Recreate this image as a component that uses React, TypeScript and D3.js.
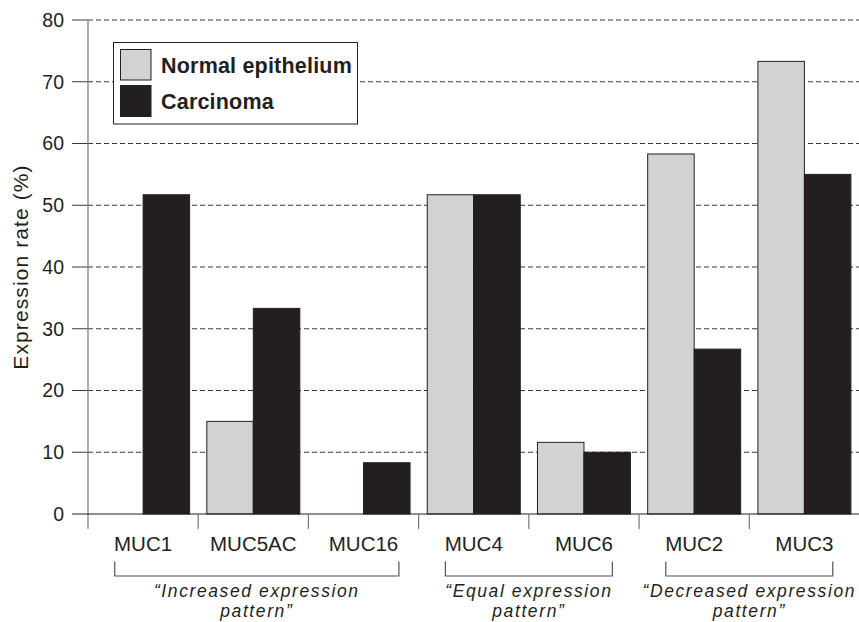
import React from "react";
import * as d3 from "d3";

const categories = ["MUC1", "MUC5AC", "MUC16", "MUC4", "MUC6", "MUC2", "MUC3"];
const seriesNames = ["Normal epithelium", "Carcinoma"];
const normalValues = [0, 15, 0, 51.7, 11.6, 58.3, 73.3];
const carcinomaValues = [51.7, 33.3, 8.3, 51.7, 10, 26.7, 55];
const yTicks = [0, 10, 20, 30, 40, 50, 60, 70, 80];
const groups = [
  { from: "MUC1", to: "MUC16", line1: "\u201CIncreased expression", line2: "pattern\u201D" },
  { from: "MUC4", to: "MUC6", line1: "\u201CEqual expression", line2: "pattern\u201D" },
  { from: "MUC2", to: "MUC3", line1: "\u201CDecreased expression", line2: "pattern\u201D" },
];

const W = 859;
const H = 622;
const FONT = "'Liberation Sans', Arial, Helvetica, sans-serif";
const NORMAL_FILL = "#d1d2d4";
const DARK = "#231f20";

export default function App() {
  const x = d3.scaleBand<string>().domain(categories).range([88, 859.5]).paddingInner(0).paddingOuter(0);
  const xs = d3.scaleBand<string>().domain(seriesNames).range([0, x.bandwidth()]).paddingInner(0).paddingOuter(0.185);
  const y = d3.scaleLinear().domain([0, 80]).range([514, 20]);

  const data = categories.map((c, i) => ({ c, vals: [normalValues[i], carcinomaValues[i]] }));

  const labelHalf = (c: string) => (c.length * 0.68 * 20.5) / 2 + 0.5;

  return (
    <svg
      width={W}
      height={H}
      style={{ position: "fixed", left: 0, top: 0, background: "#fff" }}
      fontFamily={FONT}
    >
      <rect x={0} y={0} width={W} height={H} fill="#fff" />
      {yTicks.filter((t) => t > 0).map((t) => (
        <g key={t}>
          <line x1={88} x2={W} y1={y(t)} y2={y(t)} stroke="#3a3a3a" strokeWidth={1} strokeDasharray="5,3" />
          <line x1={72} x2={88} y1={y(t)} y2={y(t)} stroke="#3a3a3a" strokeWidth={1} />
        </g>
      ))}
      {yTicks.map((t) => (
        <text key={t} x={64} y={y(t)} dy="0.35em" textAnchor="end" fontSize={19.5} fill={DARK}>
          {t}
        </text>
      ))}
      {data.map((d) => (
        <g key={d.c} transform={`translate(${x(d.c)},0)`}>
          {d.vals.map((v, j) =>
            v > 0 ? (
              <rect
                key={j}
                x={xs(seriesNames[j]) as number}
                y={y(v)}
                width={xs.bandwidth()}
                height={y(0) - y(v)}
                fill={j === 0 ? NORMAL_FILL : DARK}
                stroke={DARK}
                strokeWidth={1}
              />
            ) : null
          )}
        </g>
      ))}
      <line x1={88} x2={88} y1={20} y2={529} stroke="#777" strokeWidth={1.2} />
      <line x1={72} x2={W} y1={y(0)} y2={y(0)} stroke={DARK} strokeWidth={1.2} />
      {categories.slice(1).map((c) => (
        <line key={c} x1={x(c)} x2={x(c)} y1={y(0)} y2={529} stroke="#777" strokeWidth={1.2} />
      ))}
      {categories.map((c) => (
        <text key={c} x={(x(c) as number) + x.bandwidth() / 2} y={551} textAnchor="middle" fontSize={20.5} fill={DARK}>
          {c}
        </text>
      ))}
      {groups.map((g) => {
        const x1 = (x(g.from) as number) + x.bandwidth() / 2 - labelHalf(g.from);
        const x2 = (x(g.to) as number) + x.bandwidth() / 2 + labelHalf(g.to);
        const cx = (x1 + x2) / 2;
        return (
          <g key={g.from}>
            <path d={`M${x1},561.5 V576 H${x2} V561.5`} fill="none" stroke="#555" strokeWidth={1.2} />
            <text x={cx} y={596.5} textAnchor="middle" fontSize={17.5} fontStyle="italic" letterSpacing={1.6} fill={DARK}>
              {g.line1}
            </text>
            <text x={cx} y={616.5} textAnchor="middle" fontSize={17.5} fontStyle="italic" letterSpacing={1.6} fill={DARK}>
              {g.line2}
            </text>
          </g>
        );
      })}
      <text
        transform={`translate(28,267) rotate(-90)`}
        textAnchor="middle"
        fontSize={21}
        letterSpacing={1.1}
        fill={DARK}
      >
        Expression rate (%)
      </text>
      <rect x={113.5} y={42.5} width={244} height={81.5} fill="#fff" stroke={DARK} strokeWidth={1} />
      <rect x={120.5} y={49.5} width={30.5} height={30.5} fill={NORMAL_FILL} stroke={DARK} strokeWidth={1} />
      <rect x={120.5} y={85.5} width={30.5} height={31} fill={DARK} stroke={DARK} strokeWidth={1} />
      <text x={161} y={72.5} fontSize={21.5} fontWeight="bold" letterSpacing={0.2} fill={DARK}>
        {seriesNames[0]}
      </text>
      <text x={161} y={108.5} fontSize={21.5} fontWeight="bold" letterSpacing={0.2} fill={DARK}>
        {seriesNames[1]}
      </text>
    </svg>
  );
}
